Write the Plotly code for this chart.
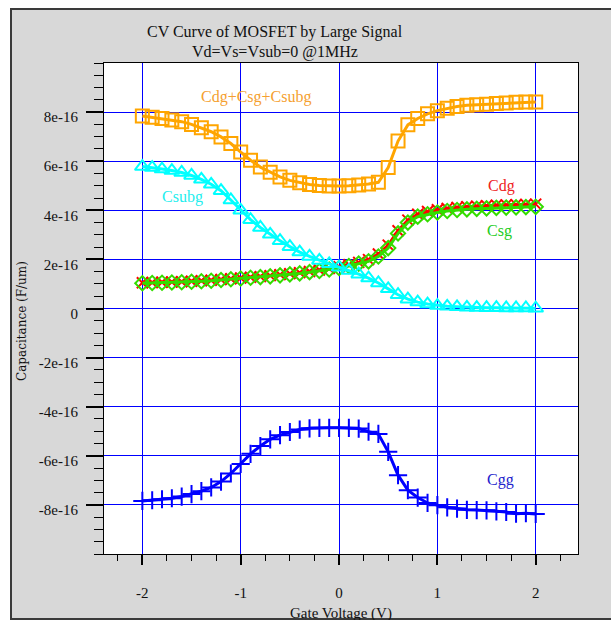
import plotly.graph_objects as go
import numpy as np

# ---- data (capacitance in units of 1e-16 F/um) ----
vg = [-2.0, -1.9, -1.8, -1.7, -1.6, -1.5, -1.4, -1.3, -1.2, -1.1,
      -1.0, -0.9, -0.8, -0.7, -0.6, -0.5, -0.4, -0.3, -0.2, -0.1,
      0.0, 0.1, 0.2, 0.3, 0.4, 0.5, 0.6, 0.7, 0.8, 0.9,
      1.0, 1.1, 1.2, 1.3, 1.4, 1.5, 1.6, 1.7, 1.8, 1.9, 2.0]

c_total = [7.84, 7.79, 7.74, 7.68, 7.61, 7.50, 7.36, 7.20, 6.99, 6.72,
           6.37, 6.04, 5.76, 5.55, 5.36, 5.22, 5.12, 5.05, 5.01, 4.99,
           4.99, 5.00, 5.03, 5.07, 5.14, 5.74, 6.82, 7.48, 7.74, 7.93,
           8.06, 8.16, 8.23, 8.28, 8.30, 8.32, 8.35, 8.37, 8.40, 8.41, 8.41]

c_dg = [1.05, 1.06, 1.07, 1.08, 1.09, 1.11, 1.13, 1.15, 1.18, 1.21,
        1.24, 1.27, 1.30, 1.34, 1.38, 1.42, 1.46, 1.51, 1.57, 1.63,
        1.70, 1.78, 1.88, 1.99, 2.22, 2.58, 3.17, 3.60, 3.84, 3.95,
        4.02, 4.08, 4.12, 4.15, 4.17, 4.19, 4.21, 4.22, 4.23, 4.24, 4.25]

c_sg = [1.03, 1.04, 1.05, 1.06, 1.07, 1.09, 1.11, 1.13, 1.16, 1.19,
        1.22, 1.25, 1.28, 1.31, 1.35, 1.39, 1.43, 1.48, 1.53, 1.59,
        1.65, 1.73, 1.83, 1.92, 2.12, 2.46, 3.06, 3.50, 3.74, 3.84,
        3.91, 3.97, 4.01, 4.04, 4.06, 4.08, 4.10, 4.11, 4.12, 4.13, 4.14]

c_subg = [5.78, 5.74, 5.68, 5.62, 5.54, 5.42, 5.26, 5.06, 4.80, 4.42,
          4.00, 3.62, 3.30, 3.02, 2.76, 2.52, 2.30, 2.12, 1.96, 1.82,
          1.68, 1.55, 1.40, 1.24, 1.04, 0.80, 0.56, 0.38, 0.26, 0.18,
          0.12, 0.09, 0.07, 0.05, 0.04, 0.03, 0.03, 0.02, 0.02, 0.02, 0.01]

c_gg = [-7.84, -7.81, -7.77, -7.73, -7.66, -7.56, -7.44, -7.29, -7.05, -6.72,
        -6.33, -5.92, -5.60, -5.33, -5.16, -5.03, -4.93, -4.88, -4.86, -4.86,
        -4.86, -4.86, -4.89, -5.02, -5.11, -5.84, -6.79, -7.40, -7.70, -7.92,
        -8.01, -8.10, -8.15, -8.20, -8.21, -8.22, -8.26, -8.29, -8.36, -8.34, -8.37]

scale = 1e-16

x_ticks = [-2, -1, 0, 1, 2]
x_tick_labels = ["-2", "-1", "0", "1", "2"]
y_ticks = [-8, -6, -4, -2, 0, 2, 4, 6, 8]
y_tick_labels = ["-8e-16", "-6e-16", "-4e-16", "-2e-16", "0",
                 "2e-16", "4e-16", "6e-16", "8e-16"]

series_labels = ["Cdg+Csg+Csubg", "Csubg", "Cdg", "Csg", "Cgg"]

W, H = 611, 620
ML, MR, MT, MB = 104, 33, 63, 66
PW, PH = W - ML - MR, H - MT - MB


def px(xp):
    return (xp - ML) / PW


def py(yp):
    return (H - MB - yp) / PH


def sc(v):
    return [a * scale for a in v]


SERIF = "Liberation Serif"

fig = go.Figure()

fig.add_trace(go.Scatter(x=vg, y=sc(c_total), mode="lines+markers",
                         line=dict(color="#ffa500", width=3),
                         marker=dict(symbol="square-open", size=13, color="#ffa500",
                                     line=dict(width=2, color="#ffa500"))))
fig.add_trace(go.Scatter(x=vg, y=sc(c_dg), mode="lines+markers",
                         line=dict(color="#ff0000", width=3),
                         marker=dict(symbol="x-thin-open", size=11, color="#ff0000",
                                     line=dict(width=2, color="#ff0000"))))
fig.add_trace(go.Scatter(x=vg, y=sc(c_sg), mode="lines+markers",
                         line=dict(color="#33dd00", width=3),
                         marker=dict(symbol="diamond-open", size=11, color="#33dd00",
                                     line=dict(width=2, color="#33dd00"))))
fig.add_trace(go.Scatter(x=vg, y=sc(c_subg), mode="lines+markers",
                         line=dict(color="#00ffff", width=3),
                         marker=dict(symbol="triangle-up-open", size=13, color="#00ffff",
                                     line=dict(width=2, color="#00ffff"))))
fig.add_trace(go.Scatter(x=vg, y=sc(c_gg), mode="lines+markers",
                         line=dict(color="#0000ff", width=3),
                         marker=dict(symbol="cross-thin-open", size=13, color="#0000ff",
                                     line=dict(width=2, color="#0000ff"))))

# in-plot series labels
lab_pos = [(-0.84, 8.6, "#f5a030"), (-1.59, 4.56, "#22eeee"), (1.65, 5.0, "#ee2222"),
           (1.63, 3.17, "#22cc22"), (1.64, -6.99, "#2222cc")]
for (xa, ya, col), txt in zip(lab_pos, series_labels):
    fig.add_annotation(x=xa, y=ya * scale, text=txt, showarrow=False,
                       font=dict(family=SERIF, size=16, color=col),
                       xanchor="center", yanchor="middle")

# titles
fig.add_annotation(xref="paper", yref="paper", x=px(275), y=py(32),
                   text="CV Curve of MOSFET by Large Signal", showarrow=False,
                   font=dict(family=SERIF, size=16, color="#111"),
                   xanchor="center", yanchor="middle")
fig.add_annotation(xref="paper", yref="paper", x=px(275), y=py(52),
                   text="Vd=Vs=Vsub=0 @1MHz", showarrow=False,
                   font=dict(family=SERIF, size=16, color="#111"),
                   xanchor="center", yanchor="middle")
fig.add_annotation(xref="paper", yref="paper", x=px(22), y=py(321),
                   text="Capacitance (F/um)", showarrow=False, textangle=-90,
                   font=dict(family="DejaVu Serif", size=12, color="#111"),
                   xanchor="center", yanchor="middle")
fig.add_annotation(xref="paper", yref="paper", x=px(341), y=py(613),
                   text="Gate Voltage (V)", showarrow=False,
                   font=dict(family=SERIF, size=15, color="#111"),
                   xanchor="center", yanchor="middle")

# outer frame
shapes = [
    dict(type="rect", xref="paper", yref="paper", x0=px(-5), x1=px(W + 5),
         y0=py(-5), y1=py(8), fillcolor="white", line=dict(width=0), layer="below"),
    dict(type="rect", xref="paper", yref="paper", x0=px(-5), x1=px(10),
         y0=py(-5), y1=py(H + 5), fillcolor="white", line=dict(width=0), layer="below"),
    dict(type="line", xref="paper", yref="paper", x0=px(10), x1=px(W + 5),
         y0=py(9), y1=py(9), line=dict(color="#3a3a3a", width=2)),
    dict(type="line", xref="paper", yref="paper", x0=px(11), x1=px(11),
         y0=py(9), y1=py(H + 5), line=dict(color="#3a3a3a", width=2)),
    dict(type="line", xref="paper", yref="paper", x0=px(10), x1=px(W + 5),
         y0=py(619), y1=py(619), line=dict(color="#3a3a3a", width=2)),
]

fig.update_layout(
    width=W, height=H,
    margin=dict(l=ML, r=MR, t=MT, b=MB, autoexpand=False),
    paper_bgcolor="#d8d8d8",
    plot_bgcolor="white",
    showlegend=False,
    shapes=shapes,
    font=dict(family=SERIF, size=14, color="#111"),
)

fig.update_xaxes(range=[-2.39, 2.43], tickvals=x_ticks, ticktext=x_tick_labels,
                 showgrid=True, gridcolor="#0000ff", gridwidth=1, zeroline=False,
                 showline=True, linecolor="black", linewidth=1, mirror=True,
                 ticks="outside", ticklen=10, tickwidth=2, tickcolor="black",
                 ticklabelstandoff=15,
                 tickfont=dict(family=SERIF, size=15, color="#111"),
                 minor=dict(dtick=0.25, tick0=0, ticks="outside", ticklen=6,
                            tickwidth=1, tickcolor="black", showgrid=False))
fig.update_yaxes(range=[-1e-15, 1e-15], tickvals=[v * scale for v in y_ticks],
                 ticktext=y_tick_labels,
                 showgrid=True, gridcolor="#0000ff", gridwidth=1, zeroline=False,
                 showline=True, linecolor="black", linewidth=1, mirror=True,
                 ticks="outside", ticklen=17, tickwidth=2, tickcolor="black",
                 ticklabelstandoff=5, ticklabelshift=5,
                 tickfont=dict(family=SERIF, size=15, color="#111"),
                 minor=dict(dtick=0.5e-16, tick0=0, ticks="outside", ticklen=9,
                            tickwidth=1, tickcolor="black", showgrid=False))

fig.write_html("out.html")
